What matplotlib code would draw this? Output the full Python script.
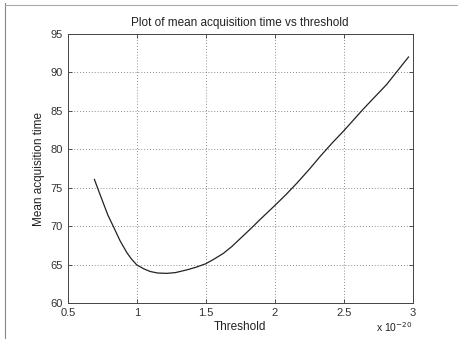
import numpy as np
import matplotlib
matplotlib.use('Agg')
import matplotlib.pyplot as plt
from matplotlib.lines import Line2D

plt.rcParams['font.family'] = ['Liberation Sans', 'DejaVu Sans']

# threshold in units of 1e-20, mean acquisition time
threshold = [0.693, 0.72, 0.758, 0.79, 0.83, 0.88, 0.928, 0.96, 1.0, 1.05,
             1.096, 1.15, 1.217, 1.28, 1.362, 1.43, 1.5, 1.56, 1.628, 1.69,
             1.749, 1.826, 1.9, 2.0, 2.08, 2.16, 2.25, 2.33, 2.42, 2.5,
             2.57, 2.64, 2.73, 2.81, 2.89, 2.97]
acq_time = [76.1, 74.8, 73.0, 71.5, 70.0, 68.1, 66.6, 65.8, 65.0, 64.5,
            64.15, 63.95, 63.9, 64.0, 64.35, 64.7, 65.15, 65.75, 66.5, 67.4,
            68.4, 69.7, 71.0, 72.7, 74.1, 75.6, 77.4, 79.1, 80.9, 82.4,
            83.8, 85.2, 86.9, 88.4, 90.2, 92.0]

xticks = [0.5, 1, 1.5, 2, 2.5, 3]
xticklabels = ['0.5', '1', '1.5', '2', '2.5', '3']
yticks = [60, 65, 70, 75, 80, 85, 90, 95]

fig = plt.figure(figsize=(4.58, 3.39), dpi=100)
ax = fig.add_axes([0.148, 0.105, 0.753, 0.795])

ax.plot(threshold, acq_time, color='#222222', lw=0.9)

ax.set_xlim(0.5, 3)
ax.set_ylim(60, 95)
ax.set_xticks(xticks)
ax.set_xticklabels(xticklabels)
ax.set_yticks(yticks)
ax.grid(True, linestyle=(0, (1, 2.5)), color='#666666', lw=0.6)
ax.tick_params(direction='in', length=3, labelsize=8, width=0.6, colors='#333333',
               top=True, right=True)
for s in ax.spines.values():
    s.set_linewidth(0.7)
    s.set_color('#444444')

ax.set_title('Plot of mean acquisition time vs threshold', fontsize=8.5, color='#222222', pad=6)
ax.set_xlabel('Threshold', fontsize=8.5, color='#222222', labelpad=2)
ax.set_ylabel('Mean acquisition time', fontsize=8.5, color='#222222', labelpad=4)
fig.text(0.9, 0.02, 'x 10$^{-20}$', fontsize=7.5, color='#222222', ha='right')

# scan border lines
fig.add_artist(Line2D([0.012, 0.012], [0.0, 0.99], color='#888888', lw=0.8))
fig.add_artist(Line2D([0.012, 1.0], [0.985, 0.985], color='#aaaaaa', lw=0.8))

fig.savefig('out.png', dpi=100)
